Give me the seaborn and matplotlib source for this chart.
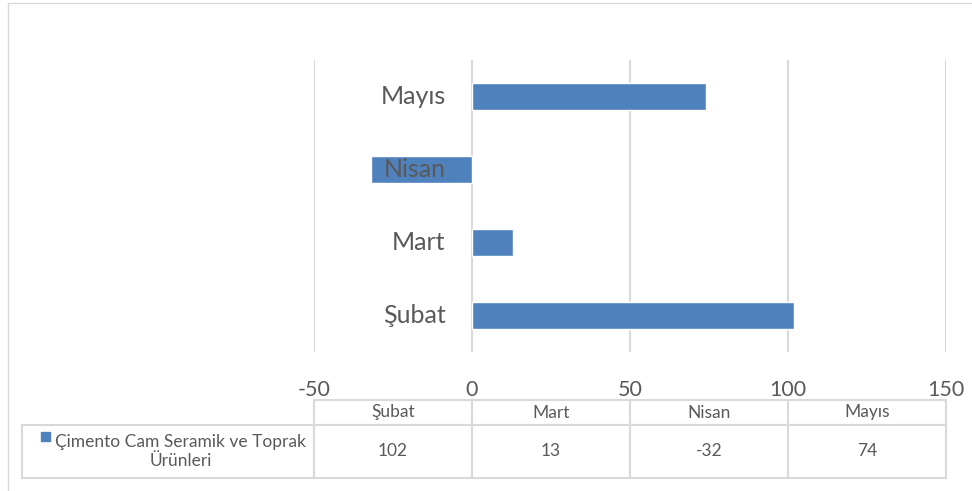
import matplotlib
matplotlib.use("Agg")
import matplotlib.pyplot as plt
import matplotlib.patches as mpatches
import seaborn as sns
import pandas as pd

# Veriler
aylar = ['Şubat', 'Mart', 'Nisan', 'Mayıs']
degerler = [102, 13, -32, 74]
seri_adi = 'Çimento Cam Seramik ve Toprak Ürünleri'
x_ticks = [-50, 0, 50, 100, 150]

mavi = '#4F81BD'
gri_yazi = '#595959'
gri_cizgi = '#D9D9D9'

sns.set_theme(style="white")
plt.rcParams['font.family'] = ['Lato', 'DejaVu Sans']

df = pd.DataFrame({'ay': aylar, 'deger': degerler})
sira = aylar[::-1]  # Mayıs üstte, Şubat altta

fig = plt.figure(figsize=(9.72, 4.91), dpi=100)
ax = fig.add_axes([314 / 972, 1 - 352 / 491, 632 / 972, 292 / 491])

sns.barplot(data=df, x='deger', y='ay', order=sira, orient='h', color=mavi,
            width=0.36, saturation=1, ax=ax, zorder=2)

ax.set_xlim(-50, 150)
ax.set_ylim(3.5, -0.5)
ax.set_xticks(x_ticks)
ax.set_xticklabels([str(t) for t in x_ticks])
ax.tick_params(axis='x', length=0, pad=20, labelsize=15.5, labelcolor=gri_yazi)
ax.set_yticks([])
ax.set_xlabel('')
ax.set_ylabel('')
ax.grid(axis='x', color=gri_cizgi, linewidth=1.5, zorder=0)
ax.set_axisbelow(True)
for s in ax.spines.values():
    s.set_visible(False)

# Kategori etiketleri sıfır çizgisinin yanında (Excel tarzı)
for i, ay in enumerate(sira):
    ax.annotate(ay, xy=(0, i), xytext=(-19, 0), textcoords='offset points',
                ha='right', va='center', fontsize=18, color=gri_yazi, zorder=5)

# Veri tablosu
sol_genislik = 292 / 632
satir_etiketi = 'Çimento Cam Seramik ve Toprak\nÜrünleri'
tablo = ax.table(cellText=[[satir_etiketi] + [str(v) for v in degerler]],
                 colLabels=[''] + aylar,
                 colWidths=[sol_genislik] + [0.25] * len(aylar),
                 cellLoc='center',
                 bbox=[-sol_genislik, (352 - 478) / 292, 1 + sol_genislik, 78 / 292])
tablo.auto_set_font_size(False)
for (r, c), hucre in tablo.get_celld().items():
    hucre.set_edgecolor(gri_cizgi)
    hucre.set_linewidth(1.5)
    hucre.set_height(25 if r == 0 else 53)
    hucre.get_text().set_color(gri_yazi)
    hucre.get_text().set_fontsize(12.5)
    if r == 0 and c == 0:
        hucre.visible_edges = ''
etiket_hucresi = tablo[1, 0]
etiket_hucresi._loc = 'right'
etiket_hucresi.get_text().set_horizontalalignment('right')
etiket_hucresi.get_text().set_multialignment('center')
etiket_hucresi.PAD = 0.027

# Gösterge kutusu
ax.add_patch(mpatches.Rectangle((-0.432, -0.305), 9 / 632, 9 / 292, transform=ax.transAxes,
                                color=mavi, clip_on=False))

# Grafik çerçevesi
fig.patches.append(mpatches.Rectangle((8 / 972, -0.1), 2, 1.1 - 3 / 491, transform=fig.transFigure,
                                      fill=False, edgecolor=gri_cizgi, linewidth=1))

fig.savefig('out.png', dpi=100)
